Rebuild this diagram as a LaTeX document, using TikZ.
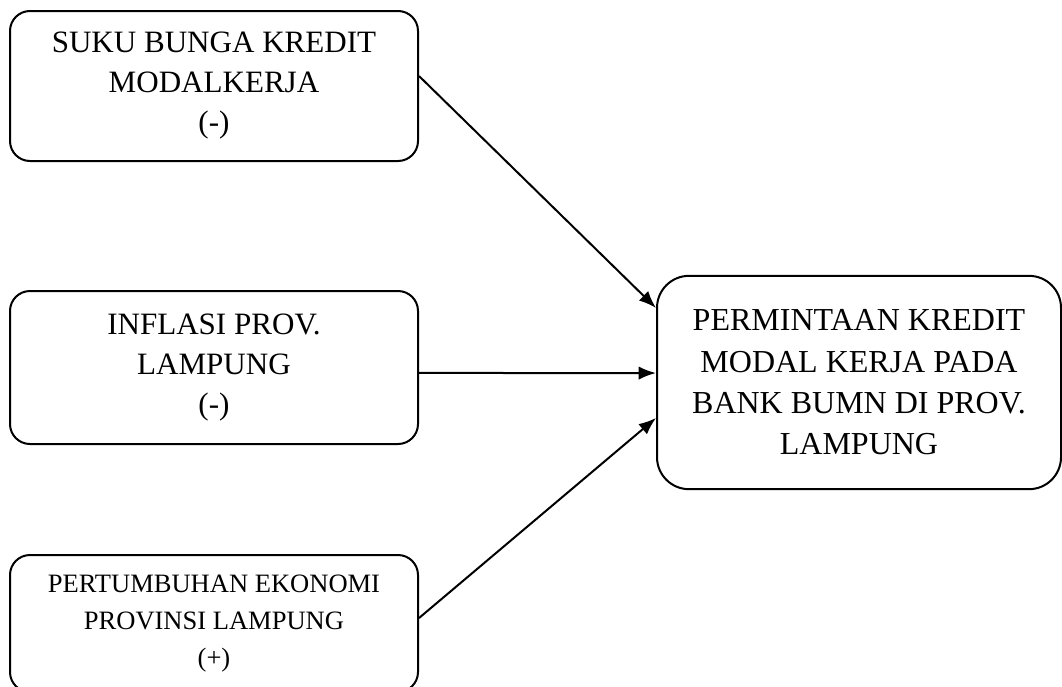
\documentclass[tikz,border=0pt]{standalone}
\usepackage{fontspec}
\setmainfont{Liberation Serif}
\usetikzlibrary{arrows.meta}

\tikzset{
	varbox/.style = {draw, line width = 1.5pt, rounded corners = 15pt, align = center,
		minimum width = 306pt, minimum height = 112.5pt, inner sep = 0pt,
		font = \fontsize{23.3}{30}\selectfont},
	bigbox/.style = {varbox, rounded corners = 24pt, minimum width = 303pt,
		minimum height = 160pt, font = \fontsize{24}{31}\selectfont},
	arr/.style = {-{Latex[length = 13pt, width = 10pt]}, line width = 1.5pt}
}

\begin{document}
\begin{tikzpicture}[x = 0.75pt, y = -0.75pt]
		\useasboundingbox (0,0) rectangle (1062,686);
		
		\node [varbox] (suku) at (214,86) {SUKU BUNGA KREDIT\\MODALKERJA\\(-)};
		\node [varbox, minimum height = 114.75pt] (inflasi) at (214,367.5) {INFLASI PROV.\\LAMPUNG\\(-)};
		\node [varbox, minimum height = 102.75pt, font = \fontsize{19.9}{28}\selectfont] (tumbuh) at (214,623.5)
			{PERTUMBUHAN EKONOMI\\PROVINSI LAMPUNG\\(+)};
		
		\node [bigbox] (kredit) at (859,382.5) {PERMINTAAN KREDIT\\MODAL KERJA PADA\\BANK BUMN DI PROV.\\LAMPUNG};
		
		\draw [arr] ([yshift = 7.5pt]suku.east) -- ([yshift = 55.9pt]kredit.west);
		\draw [arr] ([yshift = -4.1pt]inflasi.east) -- ([yshift = 7.1pt]kredit.west);
		\draw [arr] ([yshift = 4.1pt]tumbuh.east) -- ([yshift = -26.6pt]kredit.west);
	\end{tikzpicture}
\end{document}
